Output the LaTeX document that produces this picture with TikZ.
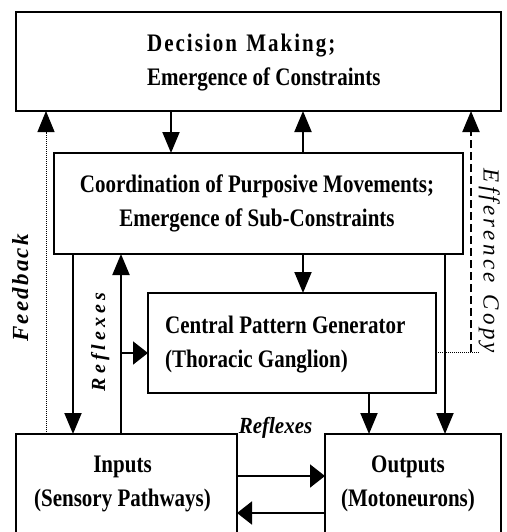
\documentclass[tikz,border=0pt]{standalone}
\usepackage{fontspec}
\setmainfont{Liberation Serif}
\usepackage{graphicx}
\usetikzlibrary{arrows.meta}
\makeatletter
\newcommand\spacedtext[2]{\def\sp@first{1}\@tfor\sp@tok:=#2\do{\ifx\sp@first\@empty\kern#1\relax\fi\def\sp@first{}\sp@tok}}
\makeatother
\begin{document}
\begin{tikzpicture}[x=1pt,y=-1pt,
  box/.style={draw,line width=1.9pt,inner sep=0pt,outer sep=0pt,anchor=north west},
  btxt/.style={inner sep=0pt,font=\fontsize{21}{29}\selectfont\bfseries},
  lbl/.style={inner sep=0pt,anchor=base},
  conn/.style={line width=1.9pt},
  varr/.style={conn,-{Triangle[length=21pt,width=17pt]}},
  harr/.style={conn,-{Triangle[length=15pt,width=23pt]}},
  dotline/.style={line width=1pt,dash pattern=on 1pt off 1pt},
]
\useasboundingbox (0,0) rectangle (506,532);
\clip (0,0) rectangle (506,532);
% boxes
\node[box,minimum width=485pt,minimum height=99pt] (dm) at (16,12) {};
\node[box,minimum width=409pt,minimum height=101pt] (co) at (54,153) {};
\node[box,minimum width=288pt,minimum height=100pt] (cpg) at (148,293) {};
\node[box,minimum width=221pt,minimum height=120pt] (in) at (16,434) {};
\node[box,minimum width=176pt,minimum height=120pt] (out) at (325,434) {};
% box texts
\node[btxt,anchor=west] (dmt) at (147,61.5) {\scalebox{1}[1.2]{\begin{tabular}{@{}l@{}}\spacedtext{2pt}{Decision{\ }Making;}\\Emergence of Constraints\end{tabular}}};
\node[btxt] (cot) at (257,202.5) {\scalebox{1}[1.2]{\begin{tabular}{@{}c@{}}Coordination of Purposive Movements;\\Emergence of Sub-Constraints\end{tabular}}};
\node[btxt,anchor=west] (cpgt) at (165,343.5) {\scalebox{1}[1.2]{\begin{tabular}{@{}l@{}}Central Pattern Generator\\(Thoracic Ganglion)\end{tabular}}};
\node[btxt] (int) at (122.5,482.5) {\scalebox{1}[1.2]{\begin{tabular}{@{}c@{}}Inputs\\(Sensory Pathways)\end{tabular}}};
\node[btxt] (outt) at (408,482.5) {\scalebox{1}[1.2]{\begin{tabular}{@{}c@{}}Outputs\\(Motoneurons)\end{tabular}}};
% connectors
\draw[varr] (171,0 |- dm.south) -- (171,0 |- co.north);
\draw[varr] (303,0 |- co.north) -- (303,0 |- dm.south);
\draw[varr] (73,0 |- co.south) -- (73,0 |- in.north);
\draw[varr] (121,0 |- in.north) -- (121,0 |- co.south);
\coordinate (br) at (121,353);
\draw[harr] (br) -- (br -| cpg.west);
\draw[varr] (303,0 |- co.south) -- (303,0 |- cpg.north);
\draw[varr] (369,0 |- cpg.south) -- (369,0 |- out.north);
\draw[varr] (445,0 |- co.south) -- (445,0 |- out.north);
\draw[harr] (in.east |- 0,476) -- (out.west |- 0,476);
\draw[harr] (out.west |- 0,513) -- (in.east |- 0,513);
% feedback
\draw[dotline,-{Triangle[length=21pt,width=17pt]}] (46,0 |- in.north) -- (46,0 |- dm.south);
% efference copy
\coordinate (ec) at (471,352);
\coordinate (ecend) at (479,352);
\draw[dotline] (cpg.east |- ec) -- (ecend);
\draw[line width=1.9pt,dash pattern=on 8pt off 4pt,-{Triangle[length=21pt,width=17pt]}] (ec) -- (ec |- dm.south);
% labels
\node[lbl,font=\fontsize{21}{25}\selectfont\bfseries\itshape] (rfh) at (275.5,433) {\scalebox{1}[1.1]{Reflexes}};
\node[lbl,rotate=90,font=\fontsize{23}{26}\selectfont\bfseries\itshape] (fb) at (28,288) {\spacedtext{2.2pt}{Feedback}};
\node[lbl,rotate=90,font=\fontsize{20}{24}\selectfont\bfseries\itshape] (rfv) at (105,342) {\spacedtext{4.1pt}{Reflexes}};
\node[lbl,rotate=-90,font=\fontsize{23}{27}\selectfont\itshape] (efc) at (483.5,261) {\spacedtext{3.2pt}{Efference{\ }Copy}};
\end{tikzpicture}
\end{document}
